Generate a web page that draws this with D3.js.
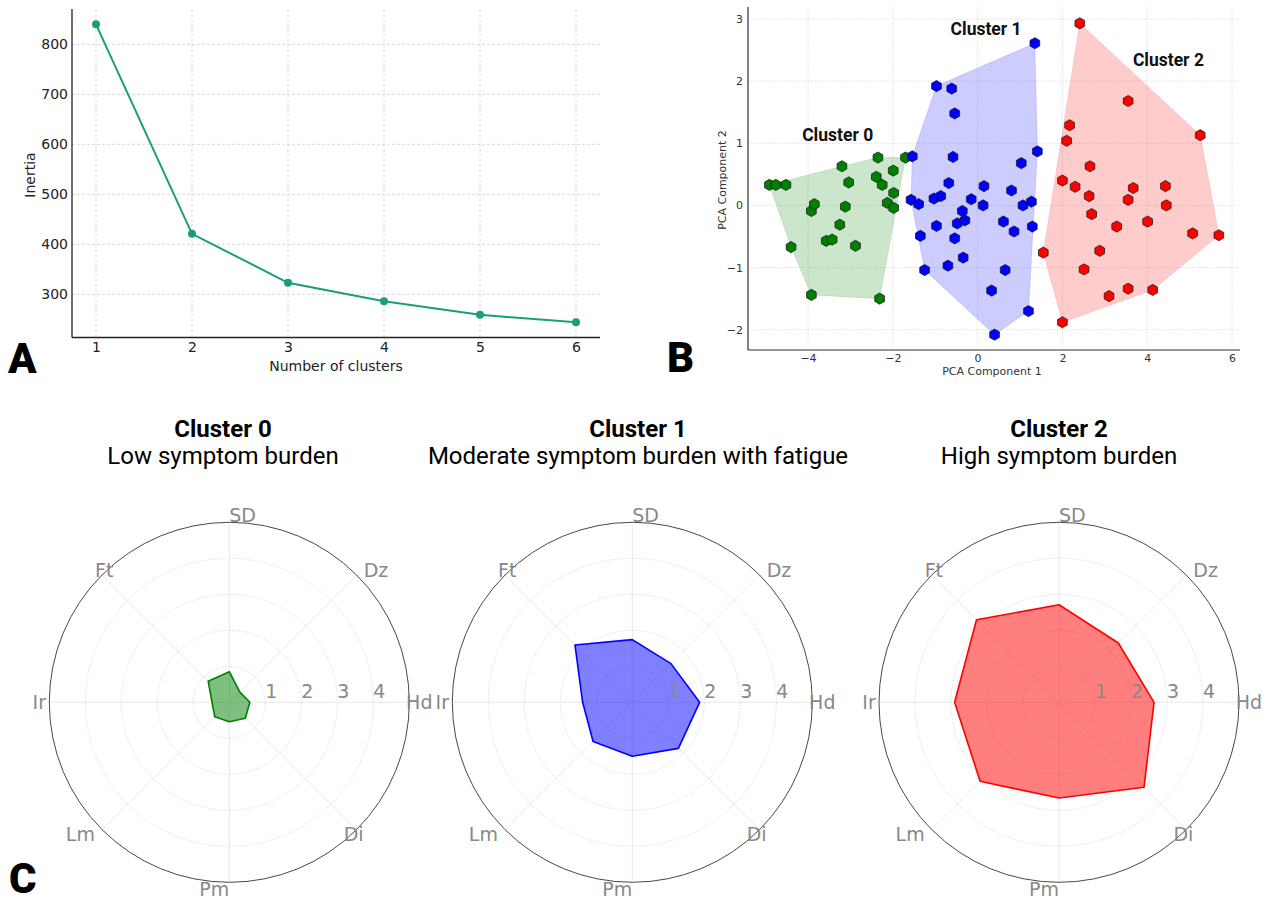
<!DOCTYPE html>
<html>
<head>
<meta charset="utf-8">
<script src="https://cdn.jsdelivr.net/npm/d3@7"></script>
<style>
  body { margin: 0; background: #fff; }
  svg { display: block; }
  .tick text { font-family: "DejaVu Sans", sans-serif; }
</style>
</head>
<body>
<svg id="chart" width="1272" height="899"></svg>
<script>
// ---- data ----
var elbowK = [1, 2, 3, 4, 5, 6];
var elbowInertia = [840, 421, 323, 286, 259, 244];
var elbowXTicks = [1, 2, 3, 4, 5, 6];
var elbowYTicks = [300, 400, 500, 600, 700, 800];

var pcaCluster0 = [
  [-4.91, 0.33], [-4.76, 0.33], [-4.52, 0.33], [-4.40, -0.67], [-3.92, -1.44],
  [-3.92, -0.09], [-3.85, 0.02], [-3.20, 0.63], [-3.04, 0.37], [-3.12, -0.02],
  [-3.25, -0.31], [-3.57, -0.57], [-3.43, -0.55], [-2.88, -0.65], [-2.35, 0.77],
  [-2.39, 0.46], [-2.25, 0.33], [-1.99, 0.56], [-1.98, 0.20], [-2.13, 0.04],
  [-1.98, -0.04], [-2.31, -1.50], [-1.70, 0.77]
];
var pcaCluster1 = [
  [-0.97, 1.92], [-0.61, 1.88], [-0.54, 1.48], [-0.58, 0.78], [-1.54, 0.79],
  [-1.57, 0.09], [-1.39, 0.02], [-1.35, -0.49], [-1.25, -1.04], [-0.97, -0.33],
  [-1.03, 0.11], [-0.87, 0.15], [-0.68, 0.36], [-0.36, -0.09], [-0.48, -0.29],
  [-0.30, -0.24], [-0.54, -0.53], [-0.34, -0.84], [-0.70, -0.97], [-0.15, 0.10],
  [0.15, 0.31], [0.13, 0.00], [0.33, -1.37], [0.40, -2.08], [1.35, 2.61],
  [1.41, 0.87], [1.03, 0.68], [0.80, 0.24], [1.07, 0.00], [1.27, 0.06],
  [1.29, -0.34], [0.61, -0.26], [0.86, -0.42], [0.65, -1.04], [1.20, -1.70]
];
var pcaCluster2 = [
  [2.41, 2.93], [3.55, 1.68], [2.17, 1.29], [2.10, 1.04], [5.25, 1.13],
  [2.65, 0.63], [2.00, 0.40], [2.30, 0.30], [2.63, 0.15], [3.67, 0.28],
  [3.55, 0.09], [4.43, 0.31], [4.45, 0.00], [2.69, -0.14], [4.01, -0.26],
  [3.28, -0.34], [5.07, -0.45], [5.69, -0.48], [1.55, -0.76], [2.88, -0.73],
  [2.51, -1.03], [3.55, -1.34], [4.13, -1.36], [3.10, -1.46], [2.00, -1.88]
];
var pcaXTicks = [-4, -2, 0, 2, 4, 6];
var pcaYTicks = [-2, -1, 0, 1, 2, 3];
var pcaLabels = ["Cluster 0", "Cluster 1", "Cluster 2"];
var pcaLabelPos = [[-3.3, 1.04], [0.2, 2.75], [4.5, 2.25]];

var radarAxes = ["SD", "Dz", "Hd", "Di", "Pm", "Lm", "Ir", "Ft"];
var radarCluster0 = [0.85, 0.41, 0.57, 0.63, 0.54, 0.57, 0.48, 0.83];
var radarCluster1 = [1.74, 1.52, 1.87, 1.81, 1.50, 1.54, 1.38, 2.25];
var radarCluster2 = [2.71, 2.33, 2.64, 3.34, 2.66, 3.10, 2.90, 3.24];
var radarRings = [1, 2, 3, 4];
var radarTitles = ["Cluster 0", "Cluster 1", "Cluster 2"];
var radarSubtitles = ["Low symptom burden", "Moderate symptom burden with fatigue", "High symptom burden"];

var clusterColors = ["#008000", "#0000ff", "#ff0000"];

var svg = d3.select("#chart");
svg.append("rect").attr("width", 1272).attr("height", 899).attr("fill", "#fff");

function panelLetter(txt, x, y) {
  svg.append("text").attr("x", x).attr("y", y)
     .style("font-family", "Roboto, 'DejaVu Sans', sans-serif")
     .style("font-weight", 900).style("font-size", "42px")
     .attr("fill", "#000").text(txt);
}

//////////////////////////////////////////////////////////////
// A: elbow plot
//////////////////////////////////////////////////////////////
function drawElbow() {
  var left = 72, right = 600, top = 9, bottom = 337.5;
  var x = d3.scaleLinear().domain([1, 6]).range([96, 576]);
  var y = d3.scaleLinear().domain([300, 800]).range([294.3, 44.3]);
  var g = svg.append("g");

  // grid
  g.selectAll(".vgrid").data(elbowXTicks).join("line")
   .attr("x1", d => x(d)).attr("x2", d => x(d)).attr("y1", top).attr("y2", bottom)
   .attr("stroke", "#d0d0d0").attr("stroke-width", 0.8).attr("stroke-dasharray", "3,2");
  g.selectAll(".hgrid").data(elbowYTicks).join("line")
   .attr("x1", left).attr("x2", right).attr("y1", d => y(d)).attr("y2", d => y(d))
   .attr("stroke", "#d0d0d0").attr("stroke-width", 0.8).attr("stroke-dasharray", "3,2");

  // axes (labels only, spines drawn by hand)
  var ax = g.append("g").attr("transform", "translate(0," + bottom + ")")
    .call(d3.axisBottom(x).tickValues(elbowXTicks).tickFormat(d3.format("d"))
      .tickSize(0).tickPadding(5));
  ax.select(".domain").remove();
  ax.selectAll("text").style("font-size", "14px").attr("fill", "#222");
  var ay = g.append("g").attr("transform", "translate(" + left + ",0)")
    .call(d3.axisLeft(y).tickValues(elbowYTicks).tickFormat(d3.format("d"))
      .tickSize(0).tickPadding(4));
  ay.select(".domain").remove();
  ay.selectAll("text").style("font-size", "14px").attr("fill", "#222");

  g.append("line").attr("x1", left).attr("x2", left).attr("y1", top).attr("y2", bottom)
   .attr("stroke", "#222").attr("stroke-width", 1.3);
  g.append("line").attr("x1", left).attr("x2", right).attr("y1", bottom).attr("y2", bottom)
   .attr("stroke", "#222").attr("stroke-width", 1.3);

  var pts = elbowK.map((k, i) => [k, elbowInertia[i]]);
  g.append("path").datum(pts)
   .attr("d", d3.line().x(d => x(d[0])).y(d => y(d[1])))
   .attr("fill", "none").attr("stroke", "#1b9e77").attr("stroke-width", 2);
  g.selectAll(".pt").data(pts).join("circle")
   .attr("cx", d => x(d[0])).attr("cy", d => y(d[1])).attr("r", 4)
   .attr("fill", "#1b9e77");

  g.append("text").attr("x", 336).attr("y", 371).attr("text-anchor", "middle")
   .style("font-family", "DejaVu Sans, sans-serif").style("font-size", "14px")
   .attr("fill", "#222").text("Number of clusters");
  g.append("text").attr("transform", "translate(35,175) rotate(-90)")
   .attr("text-anchor", "middle")
   .style("font-family", "DejaVu Sans, sans-serif").style("font-size", "14px")
   .attr("fill", "#222").text("Inertia");
}

//////////////////////////////////////////////////////////////
// B: PCA scatter with hulls
//////////////////////////////////////////////////////////////
function hexPath(r) {
  var p = [];
  for (var i = 0; i < 6; i++) {
    var a = Math.PI / 2 + i * Math.PI / 3;
    p.push([r * Math.cos(a), -r * Math.sin(a)]);
  }
  return "M" + p.map(d => d[0].toFixed(2) + "," + d[1].toFixed(2)).join("L") + "Z";
}

function drawPca() {
  var left = 748, right = 1240, top = 7, bottom = 350;
  var x = d3.scaleLinear().domain([-4, 6]).range([808, 1232]);
  var y = d3.scaleLinear().domain([-2, 3]).range([329.7, 19]);
  var g = svg.append("g");

  g.selectAll(".vgrid").data(pcaXTicks).join("line")
   .attr("x1", d => x(d)).attr("x2", d => x(d)).attr("y1", top).attr("y2", bottom)
   .attr("stroke", "#d8d8d8").attr("stroke-width", 0.8).attr("stroke-dasharray", "1.5,1.5");
  g.selectAll(".hgrid").data(pcaYTicks).join("line")
   .attr("x1", left).attr("x2", right).attr("y1", d => y(d)).attr("y2", d => y(d))
   .attr("stroke", "#d8d8d8").attr("stroke-width", 0.8).attr("stroke-dasharray", "1.5,1.5");

  var ax = g.append("g").attr("transform", "translate(0," + bottom + ")")
    .call(d3.axisBottom(x).tickValues(pcaXTicks).tickSize(0).tickPadding(4)
      .tickFormat(d => d < 0 ? "\u2212" + Math.abs(d) : d));
  ax.select(".domain").remove();
  ax.selectAll("text").style("font-size", "11px").attr("fill", "#333");
  var ay = g.append("g").attr("transform", "translate(" + left + ",0)")
    .call(d3.axisLeft(y).tickValues(pcaYTicks).tickSize(0).tickPadding(5)
      .tickFormat(d => d < 0 ? "\u2212" + Math.abs(d) : d));
  ay.select(".domain").remove();
  ay.selectAll("text").style("font-size", "11px").attr("fill", "#333");

  var clusters = [pcaCluster0, pcaCluster1, pcaCluster2];
  clusters.forEach(function (pts, i) {
    var hull = d3.polygonHull(pts.map(d => [x(d[0]), y(d[1])]));
    g.append("path").attr("d", "M" + hull.join("L") + "Z")
     .attr("fill", clusterColors[i]).attr("fill-opacity", 0.2)
     .attr("stroke", clusterColors[i]).attr("stroke-opacity", 0.12);
  });
  clusters.forEach(function (pts, i) {
    g.selectAll(".p" + i).data(pts).join("path")
     .attr("d", hexPath(5.6))
     .attr("transform", d => "translate(" + x(d[0]) + "," + y(d[1]) + ")")
     .attr("fill", clusterColors[i]).attr("stroke", "#111").attr("stroke-width", 0.7);
  });

  g.append("line").attr("x1", left).attr("x2", left).attr("y1", top).attr("y2", bottom)
   .attr("stroke", "#333").attr("stroke-width", 1.2);
  g.append("line").attr("x1", left).attr("x2", right).attr("y1", bottom).attr("y2", bottom)
   .attr("stroke", "#333").attr("stroke-width", 1.2);

  g.selectAll(".clab").data(pcaLabels).join("text")
   .attr("x", (d, i) => x(pcaLabelPos[i][0])).attr("y", (d, i) => y(pcaLabelPos[i][1]))
   .attr("text-anchor", "middle")
   .style("font-family", "Roboto, sans-serif").style("font-weight", 700).style("font-size", "17.5px")
   .attr("fill", "#111").text(d => d);

  g.append("text").attr("x", 992).attr("y", 375).attr("text-anchor", "middle")
   .style("font-family", "DejaVu Sans, sans-serif").style("font-size", "11px")
   .attr("fill", "#333").text("PCA Component 1");
  g.append("text").attr("transform", "translate(722,180) rotate(-90)")
   .attr("text-anchor", "middle").attr("dy", "0.35em")
   .style("font-family", "DejaVu Sans, sans-serif").style("font-size", "11px")
   .attr("fill", "#333").text("PCA Component 2");
}

//////////////////////////////////////////////////////////////
// C: radar charts
//////////////////////////////////////////////////////////////
function drawRadar(cx, cy, values, color, title, subtitle, titleX) {
  var r = d3.scaleLinear().domain([0, 5]).range([0, 180]);
  var g = svg.append("g").attr("transform", "translate(" + cx + "," + cy + ")");
  var n = radarAxes.length;
  var ang = i => Math.PI / 2 - i * 2 * Math.PI / n;   // clockwise from top

  g.selectAll(".spoke").data(radarAxes).join("line")
   .attr("x1", 0).attr("y1", 0)
   .attr("x2", (d, i) => r(5) * Math.cos(ang(i))).attr("y2", (d, i) => -r(5) * Math.sin(ang(i)))
   .attr("stroke", "#e2e2e2").attr("stroke-width", 0.8);
  g.selectAll(".ring").data(radarRings).join("circle")
   .attr("r", d => r(d)).attr("fill", "none")
   .attr("stroke", "#cfcfcf").attr("stroke-width", 0.7).attr("stroke-dasharray", "1.5,1.5");

  var pts = values.map((v, i) => [r(v) * Math.cos(ang(i)), -r(v) * Math.sin(ang(i))]);
  g.append("path").attr("d", "M" + pts.join("L") + "Z")
   .attr("fill", color).attr("fill-opacity", 0.5)
   .attr("stroke", color).attr("stroke-width", 1.6).attr("stroke-linejoin", "round");

  g.append("circle").attr("r", r(5)).attr("fill", "none")
   .attr("stroke", "#333").attr("stroke-width", 0.9);

  g.selectAll(".rlab").data(radarRings).join("text")
   .attr("x", d => r(d) + 6).attr("y", -10.7).attr("dy", "0.35em")
   .attr("text-anchor", "middle")
   .style("font-family", "DejaVu Sans, sans-serif").style("font-size", "19px")
   .attr("fill", "#888").text(d => d);

  var anchors = ["start", "start", "middle", "end", "end", "end", "middle", "start"];
  g.selectAll(".alab").data(radarAxes).join("text")
   .attr("x", (d, i) => 190 * Math.cos(ang(i))).attr("y", (d, i) => -187 * Math.sin(ang(i)))
   .attr("dy", "0.35em").attr("text-anchor", (d, i) => anchors[i])
   .style("font-family", "DejaVu Sans, sans-serif").style("font-size", "19px")
   .attr("fill", "#888").text(d => d);

  svg.append("text").attr("x", titleX).attr("y", 437).attr("text-anchor", "middle")
   .style("font-family", "Roboto, sans-serif").style("font-weight", 700).style("font-size", "24px")
   .attr("fill", "#000").text(title);
  svg.append("text").attr("x", titleX).attr("y", 464).attr("text-anchor", "middle")
   .style("font-family", "Roboto, sans-serif").style("font-weight", 400).style("font-size", "24px")
   .attr("fill", "#000").text(subtitle);
}

drawElbow();
drawPca();
drawRadar(229.3, 702.3, radarCluster0, clusterColors[0], radarTitles[0], radarSubtitles[0], 223);
drawRadar(632.3, 702.3, radarCluster1, clusterColors[1], radarTitles[1], radarSubtitles[1], 638);
drawRadar(1059, 702.3, radarCluster2, clusterColors[2], radarTitles[2], radarSubtitles[2], 1059);

panelLetter("A", 8, 373);
panelLetter("B", 667, 372);
panelLetter("C", 9, 893);
</script>
</body>
</html>
